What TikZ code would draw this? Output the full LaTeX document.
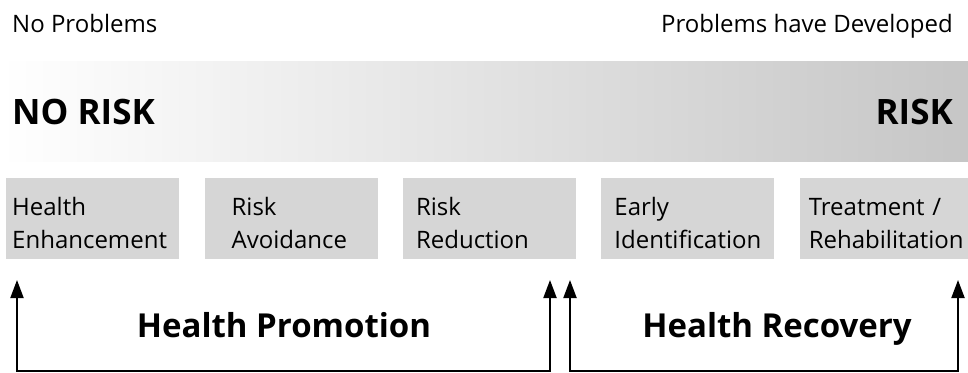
\documentclass[tikz,border=0pt]{standalone}
\usepackage{fontspec}
\setmainfont{Open Sans}
\usetikzlibrary{positioning,arrows.meta}
\definecolor{boxfill}{RGB}{214,214,214}
\definecolor{bandend}{RGB}{198,198,198}

\begin{document}
\begin{tikzpicture}[%
    x=1pt, y=-1pt,              % pixel-like units, top-down
    >={Triangle[length=18pt,width=13pt]},
    node distance=0pt and 25pt, % gap between stage boxes
    ]
\tikzset{
  stage/.style={fill=boxfill, anchor=north west, minimum height=81pt, inner xsep=13pt, inner ysep=0pt,
    text width=147pt, text height=37pt, text depth=44pt, align=left, font=\fontsize{24}{33}\selectfont},
  head/.style={inner sep=0pt, font=\fontsize{24}{29}\selectfont},
  risk/.style={inner sep=0pt, font=\fontsize{35}{42}\selectfont\bfseries},
  group/.style={inner sep=0pt, anchor=base, font=\fontsize{33}{40}\selectfont\bfseries},
  bracket/.style={<->, line width=2pt},
}

\useasboundingbox (0,0) rectangle (968,372);

% risk band
\shade [left color=white, right color=bandend] (0,61) rectangle (968,161);

\node [head,anchor=base west] (np) at (12,32) {No Problems};
\node [head,anchor=base east] (pd) at (953,32) {Problems have Developed};
\node [risk,anchor=base west] (nr) at (12,124) {NO RISK};
\node [risk,anchor=base east] (rk) at (953,124) {RISK};

% stages
\node [stage,inner xsep=6pt,text width=161pt] (b1) at (6,178) {Health\\Enhancement};
\node [stage,right=of b1,inner xsep=27pt,text width=119pt] (b2) {Risk\\Avoidance};
\node [stage,right=of b2] (b3) {Risk\\Reduction};
\node [stage,right=of b3] (b4) {Early\\Identification};
\node [stage,right=of b4,inner xsep=9pt,text width=152pt] (b5) {Treatment /\\Rehabilitation};

%connect
\coordinate (hp0) at (17,280);
\coordinate (hp1) at (550,280);
\coordinate (hr0) at (570,280);
\coordinate (hr1) at (958,280);

\draw [bracket] (hp0) -- ++(0,91) -| (hp1);
\draw [bracket] (hr0) -- ++(0,91) -| (hr1);

\node [group] (hp) at (284,337) {Health Promotion};
\node [group] (hr) at (777,337) {Health Recovery};

\end{tikzpicture}
\end{document}
